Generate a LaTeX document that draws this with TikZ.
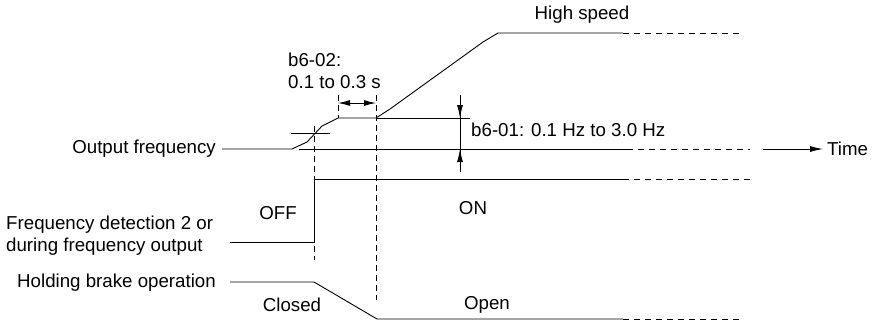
\documentclass[tikz,border=0pt]{standalone}
\usepackage{fontspec}
\setmainfont{Liberation Sans}
\usetikzlibrary{arrows.meta}
\begin{document}
\begin{tikzpicture}[x=1pt,y=-1pt,
  lbl/.style={inner sep=0pt,font=\fontsize{18.7}{22}\selectfont},
  sig/.style={line width=0.9pt},
  dsh/.style={line width=0.9pt,dash pattern=on 6pt off 5pt},
  vdsh/.style={line width=0.9pt,dash pattern=on 6pt off 4pt},
  tip/.style={-{Latex[length=13pt,width=6pt]}},
  dtip/.style={{Latex[length=12pt,width=6pt]}-{Latex[length=12pt,width=6pt]}}]
\useasboundingbox (0,0) rectangle (872,325);
% labels
\node[lbl] (hs) at (582,15) {High speed};
\node[lbl,anchor=west,align=left] (b602) at (288,71) {b6-02:\\0.1 to 0.3 s};
\node[lbl,anchor=west] (b601) at (471,130) {b6-01: 0.1 Hz to 3.0 Hz};
\node[lbl,anchor=east] (of) at (216,149) {Output frequency};
\node[lbl,anchor=west] (time) at (827,149) {Time};
\node[lbl] (off) at (278,213) {OFF};
\node[lbl] (on) at (473,208) {ON};
\node[lbl,anchor=west,align=left] (fd) at (6,236) {Frequency detection 2 or\\during frequency output};
\node[lbl,anchor=east] (hb) at (216,283) {Holding brake operation};
\node[lbl] (cl) at (292,305) {Closed};
\node[lbl] (op) at (487,305) {Open};
% coordinates
\coordinate (f0) at (222,149);
\coordinate (f1) at (292,149);
\coordinate (f2) at (307,142);
\coordinate (f3) at (322,126);
\coordinate (f4) at (338,118);
\coordinate (f5) at (376,118);
\coordinate (f6) at (390,109);
\coordinate (f7) at (483,42);
\coordinate (f8) at (498,33);
\coordinate (f9) at (623,33);
\coordinate (f10) at (743,33);
% output frequency
\draw[sig] (f0) -- (f1) -- (f2) -- (f3) -- (f4) -- (f5) -- (f6) -- (f7) -- (f8) -- (f9);
\draw[dsh] (f9) -- (f10);
% reference lines
\coordinate (z0) at (299,149);
\coordinate (z1) at (627,149);
\coordinate (z2) at (750,149);
\draw[sig] (z0) -- (z1);
\draw[dsh] (z1) -- (z2);
\coordinate (u1) at (470,118);
\draw[sig] (f5) -- (u1);
% hysteresis tick
\coordinate (h0) at (291,133);
\coordinate (h1) at (330,133);
\draw[sig] (h0) -- (h1);
% time arrow
\coordinate (t0) at (763,149);
\coordinate (t1) at (823,149);
\draw[sig,tip] (t0) -- (t1);
% b6-01 dimension
\coordinate (d0) at (460,95);
\coordinate (d1) at (460,118);
\coordinate (d2) at (460,149);
\coordinate (d3) at (460,172);
\draw[sig] (d0) -- (d3);
\draw[sig,tip] (d0) -- (d1);
\draw[sig,tip] (d3) -- (d2);
% b6-02 dimension
\coordinate (a0) at (338,95);
\coordinate (a1) at (376,95);
\draw[vdsh] (a0) -- (f4);
\coordinate (a2) at (338,103);
\coordinate (a3) at (376,103);
\draw[sig,dtip] (a2) -- (a3);
% vertical dashed lines
\coordinate (v0) at (314,126);
\coordinate (v1) at (314,260);
\coordinate (w1) at (376,300);
\draw[vdsh] (v0) -- (v1);
\draw[vdsh] (a1) -- (w1);
% frequency detection signal
\coordinate (s0) at (230,242);
\coordinate (s1) at (314,242);
\coordinate (s2) at (314,179);
\coordinate (s3) at (623,179);
\coordinate (s4) at (750,179);
\draw[sig] (s0) -- (s1) -- (s2) -- (s3);
\draw[dsh] (s3) -- (s4);
% brake
\coordinate (b0) at (230,282);
\coordinate (b1) at (314,282);
\coordinate (b2) at (377,319);
\coordinate (b3) at (623,319);
\coordinate (b4) at (743,319);
\draw[sig] (b0) -- (b1) -- (b2) -- (b3);
\draw[dsh] (b3) -- (b4);
\end{tikzpicture}
\end{document}
